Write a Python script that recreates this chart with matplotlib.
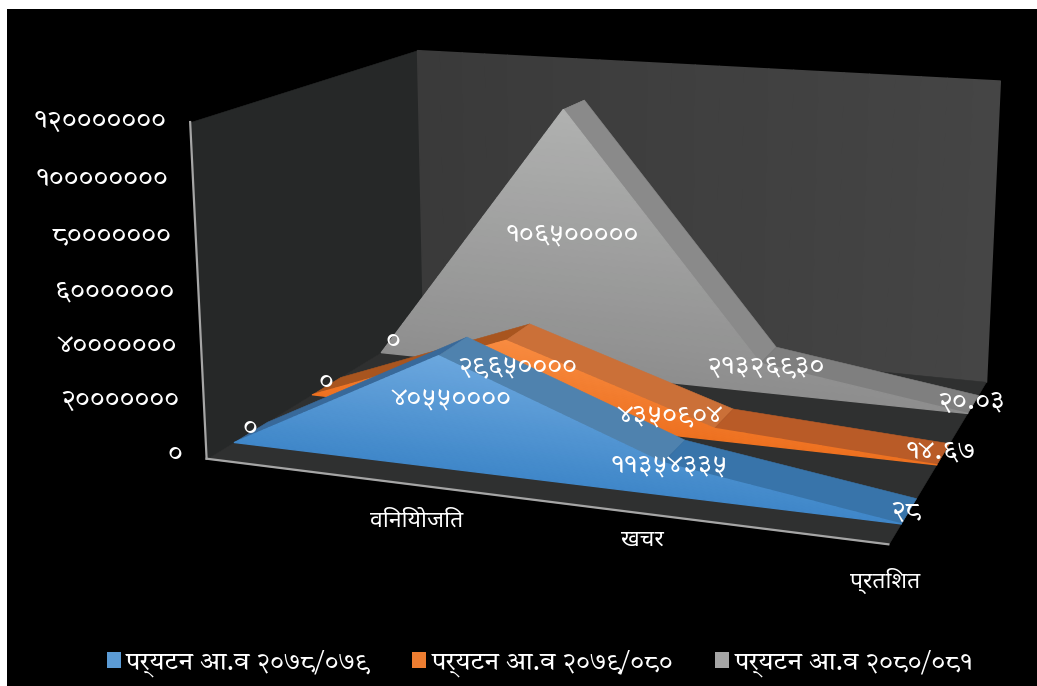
import numpy as np
import matplotlib
matplotlib.use("Agg")
import matplotlib.pyplot as plt
from matplotlib.patches import Patch, Rectangle
from mpl_toolkits.mplot3d import proj3d
from mpl_toolkits.mplot3d.art3d import Poly3DCollection

plt.rcParams["font.family"] = ["Noto Sans", "DejaVu Sans"]
NUM_FONT = ["Tiro Devanagari Hindi", "Noto Sans", "DejaVu Sans"]

W, H = 1037, 686

# --------------------------------------------------
# Data (first category has no name and is 0 in every series)
# --------------------------------------------------
categories = ["", "विनियोजित", "खचर", "प्रतिशत"]
series_names = ["पर्यटन आ.व २०७८/०७९", "पर्यटन आ.व २०७९/०८०", "पर्यटन आ.व २०८०/०८१"]
blue_values = [0, 40550000, 11354335, 28]
orange_values = [0, 29650000, 4350904, 14.67]
gray_values = [0, 106500000, 21326930, 20.03]
# the reference draws the third gray point well below its own label
gray_drawn = [0, 106500000, 11600000, 20.03]
z_ticks = [0, 20000000, 40000000, 60000000, 80000000, 100000000, 120000000]

# --------------------------------------------------
# Styles and layout. The title is cropped off in the reference and
# cannot be read, so it is not drawn.
# --------------------------------------------------
depths = [(0.105, 0.24), (0.435, 0.567), (0.77, 0.90)]
face_top = ["#6ba7de", "#f88b40", "#b0b1b0"]
face_bottom = ["#3f87c9", "#ee7120", "#8e8e8e"]
slope_colors = [
    ["#38699a", "#4f82ae", "#3874aa"],
    ["#a8551f", "#cb7038", "#b95b27"],
    ["#777777", "#8a8a8a", "#7f7f7f"],
]
legend_colors = ["#5b9bd5", "#ed7d31", "#a5a5a5"]
label_px = [
    [(250, 428), (452, 398), (669, 465), (906, 511)],
    [(326, 382), (517, 366), (670, 415), (941, 451)],
    [(393, 341), (572, 234), (766, 366), (971, 402)],
]
category_px = [None, (417, 521), (642, 540), (885, 581)]

DEV = str.maketrans("0123456789", "०१२३४५६७८९")


def dev(v):
    return f"{v:g}".translate(DEV) if v < 1000 else str(v).translate(DEV)


def px(x, y):
    return x / W, 1 - y / H


fig = plt.figure(figsize=(W / 100, H / 100), dpi=100, facecolor="white")
fig.add_artist(Rectangle((7 / W, 0), 1030 / W, 677 / H, transform=fig.transFigure,
                         facecolor="#000000", edgecolor="none", zorder=-1))

# --------------------------------------------------
# Camera, fitted to the corners of the reference box
# --------------------------------------------------
s, tx, ty = 4685.84, 619.14, 262.06
ax = fig.add_subplot(projection="3d", computed_zorder=False)
vx0, vy0, vw, vh = ax.viewLim.bounds
ax.set_position([(tx + s * vx0) / W, (H - ty + s * vy0) / H, s * vw / W, s * vh / H])
ax.patch.set_alpha(0)
ax.set_axis_off()
ax.view_init(13.881, -70.783, -0.082)
ax.set_proj_type("persp", focal_length=0.4428)
ax.set_box_aspect((1.3285, 1, 0.6551))
ax.set_xlim(0, 3)
ax.set_ylim(0, 1)
ax.set_zlim(0, z_ticks[-1])


def add_poly(verts, color, zorder, lw=0.4):
    ax.add_collection3d(Poly3DCollection([verts], facecolors=color, edgecolors=color,
                                         linewidths=lw, zorder=zorder))


def clip_band(poly, z0, z1):
    """Cut a polygon in the y=const plane to the band z0..z1."""
    def cut(pts, keep, bound):
        out = []
        for a, b in zip(pts, pts[1:] + pts[:1]):
            if keep(a):
                out.append(a)
            if keep(a) != keep(b):
                t = (bound - a[2]) / (b[2] - a[2])
                out.append((a[0] + t * (b[0] - a[0]), a[1], bound))
        return out
    pts = cut(poly, lambda p: p[2] >= z0, z0)
    return cut(pts, lambda p: p[2] <= z1, z1) if pts else pts


def mix(c0, c1, t):
    a = np.array(matplotlib.colors.to_rgb(c0))
    b = np.array(matplotlib.colors.to_rgb(c1))
    return tuple(a + (b - a) * t)


# --------------------------------------------------
# Walls and floor
# --------------------------------------------------
ztop = z_ticks[-1]
add_poly([(0, 0, 0), (0, 1, 0), (0, 1, ztop), (0, 0, ztop)], "#262828", 1)
for i in range(24):
    t0, t1 = i / 24, (i + 1) / 24
    add_poly([(3 * t0, 1, 0), (3 * t1, 1, 0), (3 * t1, 1, ztop), (3 * t0, 1, ztop)],
             mix("#3a3a3a", "#454545", t0), 1, lw=1.2)
add_poly([(0, 0, 0), (3, 0, 0), (3, 1, 0), (0, 1, 0)], "#2f3030", 2)
ax.plot([0, 0], [0, 0], [0, ztop], color="#a6a6a6", lw=1.6, zorder=3)
ax.plot([0, 3], [0, 0], [0, 0], color="#a6a6a6", lw=1.6, zorder=3)

# --------------------------------------------------
# Areas, back to front
# --------------------------------------------------
all_values = [blue_values, orange_values, gray_values]
all_drawn = [blue_values, orange_values, gray_drawn]
xs = np.arange(len(categories))
for k in [2, 1, 0]:
    vals = all_drawn[k]
    y0, y1 = depths[k]
    base = 10 * (3 - k)
    for i in [0, 2, 1]:
        add_poly([(xs[i], y0, vals[i]), (xs[i + 1], y0, vals[i + 1]),
                  (xs[i + 1], y1, vals[i + 1]), (xs[i], y1, vals[i])],
                 slope_colors[k][i], base + i)
    face = [(xs[0], y0, 0)] + [(x, y0, v) for x, v in zip(xs, vals)]
    top = max(vals)
    nb = 40
    for b in range(nb):
        z0, z1 = top * b / nb, top * (b + 1) / nb
        strip = clip_band(face, z0, z1)
        if len(strip) >= 3:
            add_poly(strip, mix(face_bottom[k], face_top[k], (b + 0.5) / nb), base + 5, lw=1.0)

# --------------------------------------------------
# Text
# --------------------------------------------------
M = ax.get_proj()
for t in z_ticks:
    X, Y, _ = proj3d.proj_transform(0, 0, t, M)
    ax.annotate(dev(t), xy=(X, Y), xycoords="data", xytext=(-24, 5 - 4 * t / ztop), textcoords="offset pixels",
                ha="right", va="center", color="white", fontsize=20, family=NUM_FONT,
                annotation_clip=False, zorder=100)

for k in range(3):
    for (lx, ly), v in zip(label_px[k], all_values[k]):
        fig.text(*px(lx, ly), dev(v), ha="center", va="center", color="white", fontsize=20, family=NUM_FONT)

for name, pos in zip(categories, category_px):
    if pos:
        fig.text(*px(*pos), name, ha="center", va="center", color="white", fontsize=16.5)

handles = [Patch(facecolor=c, edgecolor="none") for c in legend_colors]
fig.legend(handles, series_names, loc="center", bbox_to_anchor=(540 / W, 1 - 663 / H), ncol=3,
           frameon=False, labelcolor="white", handlelength=0.55, handleheight=0.55,
           handletextpad=0.2, columnspacing=1.63,
           prop={"family": NUM_FONT, "size": 18.5})

fig.savefig("out.png", dpi=100)
